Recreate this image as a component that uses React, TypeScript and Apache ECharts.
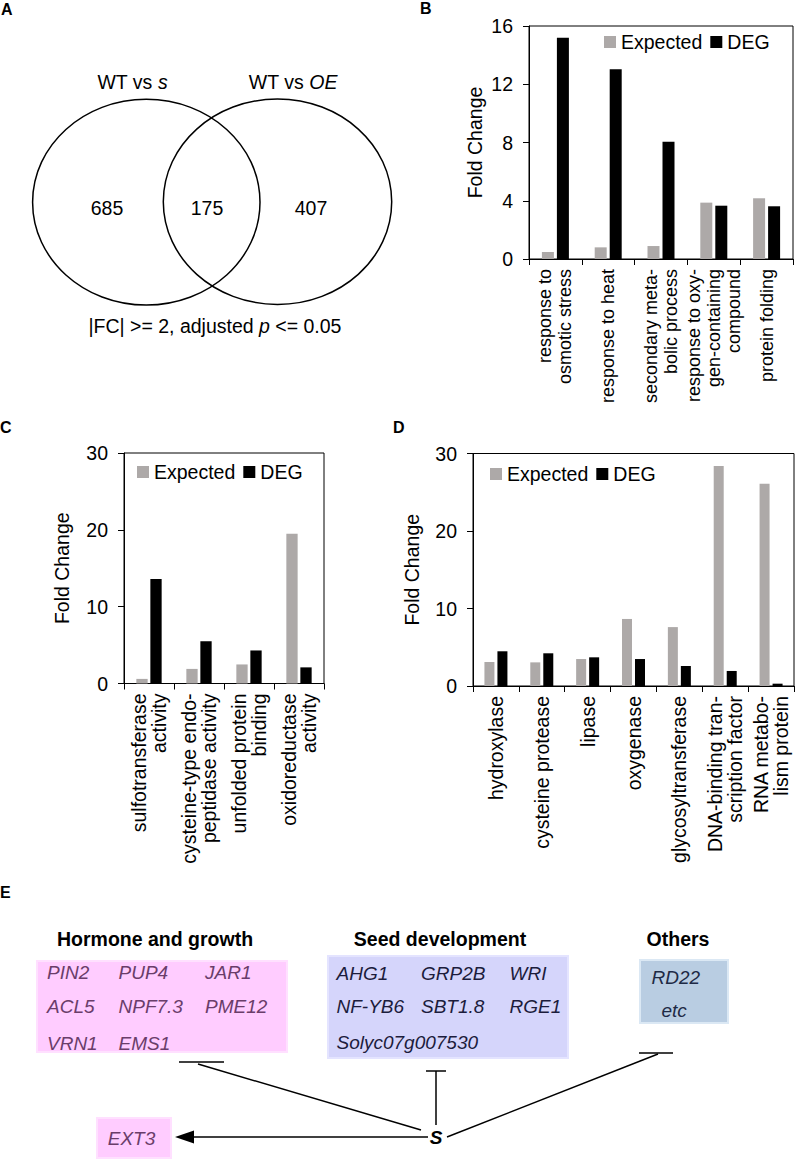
import React, { useEffect, useRef } from "react";
import * as echarts from "echarts";

// ---------- data ----------
const vennSets = ["WT vs {i|s}", "WT vs {i|OE}"];
const vennCounts = [685, 175, 407];
const vennNote = "|FC| >= 2, adjusted {i|p} <= 0.05";

const bCategories = [
  "response to\nosmotic stress",
  "response to heat",
  "secondary meta-\nbolic process",
  "response to oxy-\ngen-containing\ncompound",
  "protein folding",
];
const bExpected = [0.48, 0.8, 0.89, 3.87, 4.17];
const bDEG = [15.2, 13.03, 8.06, 3.66, 3.62];

const cCategories = [
  "sulfotransferase\nactivity",
  "cysteine-type endo-\npeptidase activity",
  "unfolded protein\nbinding",
  "oxidoreductase\nactivity",
];
const cExpected = [0.6, 1.9, 2.48, 19.5];
const cDEG = [13.6, 5.5, 4.3, 2.1];

const dCategories = [
  "hydroxylase",
  "cysteine protease",
  "lipase",
  "oxygenase",
  "glycosyltransferase",
  "DNA-binding tran-\nscription factor",
  "RNA metabo-\nlism protein",
];
const dExpected = [3.1, 3.05, 3.48, 8.65, 7.6, 28.4, 26.1];
const dDEG = [4.48, 4.22, 3.7, 3.48, 2.58, 1.94, 0.3];

const seriesNames = ["Expected", "DEG"];

const hormoneTitle = "Hormone and growth";
const hormoneGenes = [
  ["PIN2", "PUP4", "JAR1"],
  ["ACL5", "NPF7.3", "PME12"],
  ["VRN1", "EMS1"],
];
const seedTitle = "Seed development";
const seedGenes = [
  ["AHG1", "GRP2B", "WRI"],
  ["NF-YB6", "SBT1.8", "RGE1"],
  ["Solyc07g007530"],
];
const otherTitle = "Others";
const otherGenes = ["RD22", "etc"];
const activatedGene = "EXT3";
const regulator = "S";

// ---------- styles ----------
const FONT = "'Liberation Sans', Arial, Helvetica, sans-serif";
const FS = 19.5;
const GRAY = "#ada9a8";
const BLACK = "#000000";

function makeAxes(
  gridIndex: number,
  cats: string[],
  max: number,
  interval: number,
  nameGap: number,
  catFont: number
) {
  const x = {
    type: "category",
    gridIndex,
    data: cats,
    axisLine: { lineStyle: { color: BLACK, width: 1 } },
    axisTick: { show: true, length: 6, lineStyle: { color: BLACK } },
    axisLabel: {
      rotate: 90,
      interval: 0,
      hideOverlap: false,
      color: BLACK,
      fontSize: catFont,
      fontFamily: FONT,
      lineHeight: 20,
      margin: 10,
    },
  };
  const y = {
    type: "value",
    gridIndex,
    min: 0,
    max,
    interval,
    name: "Fold Change",
    nameLocation: "middle",
    nameGap,
    nameTextStyle: { color: BLACK, fontSize: FS, fontFamily: FONT },
    axisLine: { show: true, lineStyle: { color: BLACK, width: 1 } },
    axisTick: { show: true, length: 6, lineStyle: { color: BLACK } },
    axisLabel: { color: BLACK, fontSize: FS, fontFamily: FONT, margin: 16 },
    splitLine: { show: false },
  };
  return { x, y };
}

function makeBars(idx: number, exp: number[], deg: number[], width: number, gap: string) {
  return [
    {
      name: seriesNames[0],
      type: "bar",
      xAxisIndex: idx,
      yAxisIndex: idx,
      data: exp,
      barWidth: width,
      barGap: gap,
      itemStyle: { color: GRAY },
    },
    {
      name: seriesNames[1],
      type: "bar",
      xAxisIndex: idx,
      yAxisIndex: idx,
      data: deg,
      barWidth: width,
      barGap: gap,
      itemStyle: { color: BLACK },
    },
  ];
}

function text(x: number, y: number, t: string, extra: any = {}) {
  return {
    type: "text",
    x,
    y,
    style: {
      text: t,
      fontSize: FS,
      fontFamily: FONT,
      fill: BLACK,
      align: "center",
      verticalAlign: "middle",
      rich: { i: { fontStyle: "italic", fontSize: FS, fontFamily: FONT, fill: BLACK } },
      ...extra,
    },
  };
}

function line(x1: number, y1: number, x2: number, y2: number) {
  return {
    type: "line",
    shape: { x1, y1, x2, y2 },
    style: { stroke: BLACK, lineWidth: 1.5 },
  };
}

function panelLabel(x: number, y: number, t: string) {
  return text(x, y, t, { fontSize: 16, fontWeight: "bold", align: "left" });
}

export default function App() {
  const ref = useRef<HTMLDivElement>(null);

  useEffect(() => {
    document.body.style.margin = "0";
    if (!ref.current) return;
    const chart = echarts.init(ref.current, undefined, { renderer: "svg" });

    const aB = makeAxes(0, bCategories, 16, 4, 44, 18);
    const aC = makeAxes(1, cCategories, 30, 10, 52, FS);
    const aD = makeAxes(2, dCategories, 30, 10, 51, FS);

    const graphics: any[] = [];
    // panel letters
    graphics.push(panelLabel(1, 9, "A"));
    graphics.push(panelLabel(420, 8, "B"));
    graphics.push(panelLabel(0, 427, "C"));
    graphics.push(panelLabel(393, 427, "D"));
    graphics.push(panelLabel(0, 892, "E"));

    // Venn
    graphics.push({
      type: "ellipse",
      shape: { cx: 146.3, cy: 202.2, rx: 113.7, ry: 102.9 },
      style: { fill: "none", stroke: BLACK, lineWidth: 1.5 },
    });
    graphics.push({
      type: "ellipse",
      shape: { cx: 277.5, cy: 201.7, rx: 114.2, ry: 102.7 },
      style: { fill: "none", stroke: BLACK, lineWidth: 1.5 },
    });
    graphics.push(text(132.5, 82, vennSets[0]));
    graphics.push(text(293, 82, vennSets[1]));
    graphics.push(text(107, 208, String(vennCounts[0])));
    graphics.push(text(207, 208, String(vennCounts[1])));
    graphics.push(text(311, 208, String(vennCounts[2])));
    graphics.push(text(215, 326, vennNote));

    // Panel E boxes
    const pinkFill = "#ffccff";
    const pinkStroke = "#ffe0ff";
    const pinkText = "#6a3d6a";
    const blueFill = "#d5d5fb";
    const blueStroke = "#e4e4ff";
    const blueText = "#1c1c3c";
    const othFill = "#b9cde2";
    const othStroke = "#dbe8f4";
    const othText = "#1e2a45";

    graphics.push({
      type: "rect",
      shape: { x: 37, y: 961, width: 250, height: 91 },
      style: { fill: pinkFill, stroke: pinkStroke, lineWidth: 2 },
    });
    graphics.push({
      type: "rect",
      shape: { x: 328, y: 956, width: 240, height: 102 },
      style: { fill: blueFill, stroke: blueStroke, lineWidth: 2 },
    });
    graphics.push({
      type: "rect",
      shape: { x: 640, y: 960, width: 88, height: 63 },
      style: { fill: othFill, stroke: othStroke, lineWidth: 2 },
    });
    graphics.push({
      type: "rect",
      shape: { x: 97, y: 1118, width: 74, height: 40 },
      style: { fill: pinkFill, stroke: pinkStroke, lineWidth: 2 },
    });

    // titles
    const titleStyle = { fontWeight: "bold", fontSize: 19.5 };
    graphics.push(text(155, 939, hormoneTitle, titleStyle));
    graphics.push(text(440, 939, seedTitle, titleStyle));
    graphics.push(text(678, 939, otherTitle, titleStyle));

    const geneStyle = (fill: string) => ({
      fontStyle: "italic",
      fontSize: 19,
      align: "left",
      fill,
    });
    const pinkCols = [47, 118.5, 205];
    const pinkRows = [972.5, 1006.7, 1043];
    hormoneGenes.forEach((row, r) =>
      row.forEach((g, c) => graphics.push(text(pinkCols[c], pinkRows[r], g, geneStyle(pinkText))))
    );
    const blueCols = [336.5, 421, 509.5];
    const blueRows = [973, 1006.5, 1042.5];
    seedGenes.forEach((row, r) =>
      row.forEach((g, c) => graphics.push(text(blueCols[c], blueRows[r], g, geneStyle(blueText))))
    );
    graphics.push(text(651.5, 977.5, otherGenes[0], geneStyle(othText)));
    graphics.push(text(661.5, 1010, otherGenes[1], geneStyle(othText)));
    graphics.push(text(131.5, 1138, activatedGene, { ...geneStyle(pinkText), align: "center" }));

    // regulation lines
    graphics.push(line(179, 1062, 224, 1062));
    graphics.push(line(198, 1064, 421, 1130));
    graphics.push(line(426, 1071, 446, 1071));
    graphics.push(line(436, 1071, 436, 1125));
    graphics.push(line(639, 1053, 673, 1053));
    graphics.push(line(658, 1054, 447, 1137));
    graphics.push(line(428, 1137, 192, 1137));
    graphics.push({
      type: "polygon",
      shape: { points: [[175, 1137], [194, 1130.5], [194, 1143.5]] },
      style: { fill: BLACK },
    });
    graphics.push(text(436, 1137, regulator, { fontWeight: "bold", fontStyle: "italic", fontSize: 19 }));

    const legendBase = {
      data: seriesNames,
      icon: "rect",
      itemWidth: 12,
      itemHeight: 12,
      itemGap: 8,
      padding: 0,
      textStyle: { color: BLACK, fontSize: FS, fontFamily: FONT },
    };

    chart.setOption({
      animation: false,
      backgroundColor: "#ffffff",
      textStyle: { fontFamily: FONT },
      legend: [
        { ...legendBase, left: 604, top: 32 },
        { ...legendBase, left: 137, top: 462 },
        { ...legendBase, left: 490, top: 464 },
      ],
      grid: [
        { left: 529, top: 26, width: 264, height: 233, show: true, borderColor: BLACK, borderWidth: 1 },
        { left: 124, top: 453, width: 200, height: 230.5, show: true, borderColor: BLACK, borderWidth: 1 },
        { left: 473, top: 453.5, width: 321, height: 232.5, show: true, borderColor: BLACK, borderWidth: 1 },
      ],
      xAxis: [aB.x, aC.x, aD.x],
      yAxis: [aB.y, aC.y, aD.y],
      series: [
        ...makeBars(0, bExpected, bDEG, 12, "25%"),
        ...makeBars(1, cExpected, cDEG, 11.3, "24%"),
        ...makeBars(2, dExpected, dDEG, 10, "30%"),
      ],
      graphic: graphics,
    });

    return () => chart.dispose();
  }, []);

  return <div ref={ref} style={{ width: 797, height: 1159 }} />;
}
